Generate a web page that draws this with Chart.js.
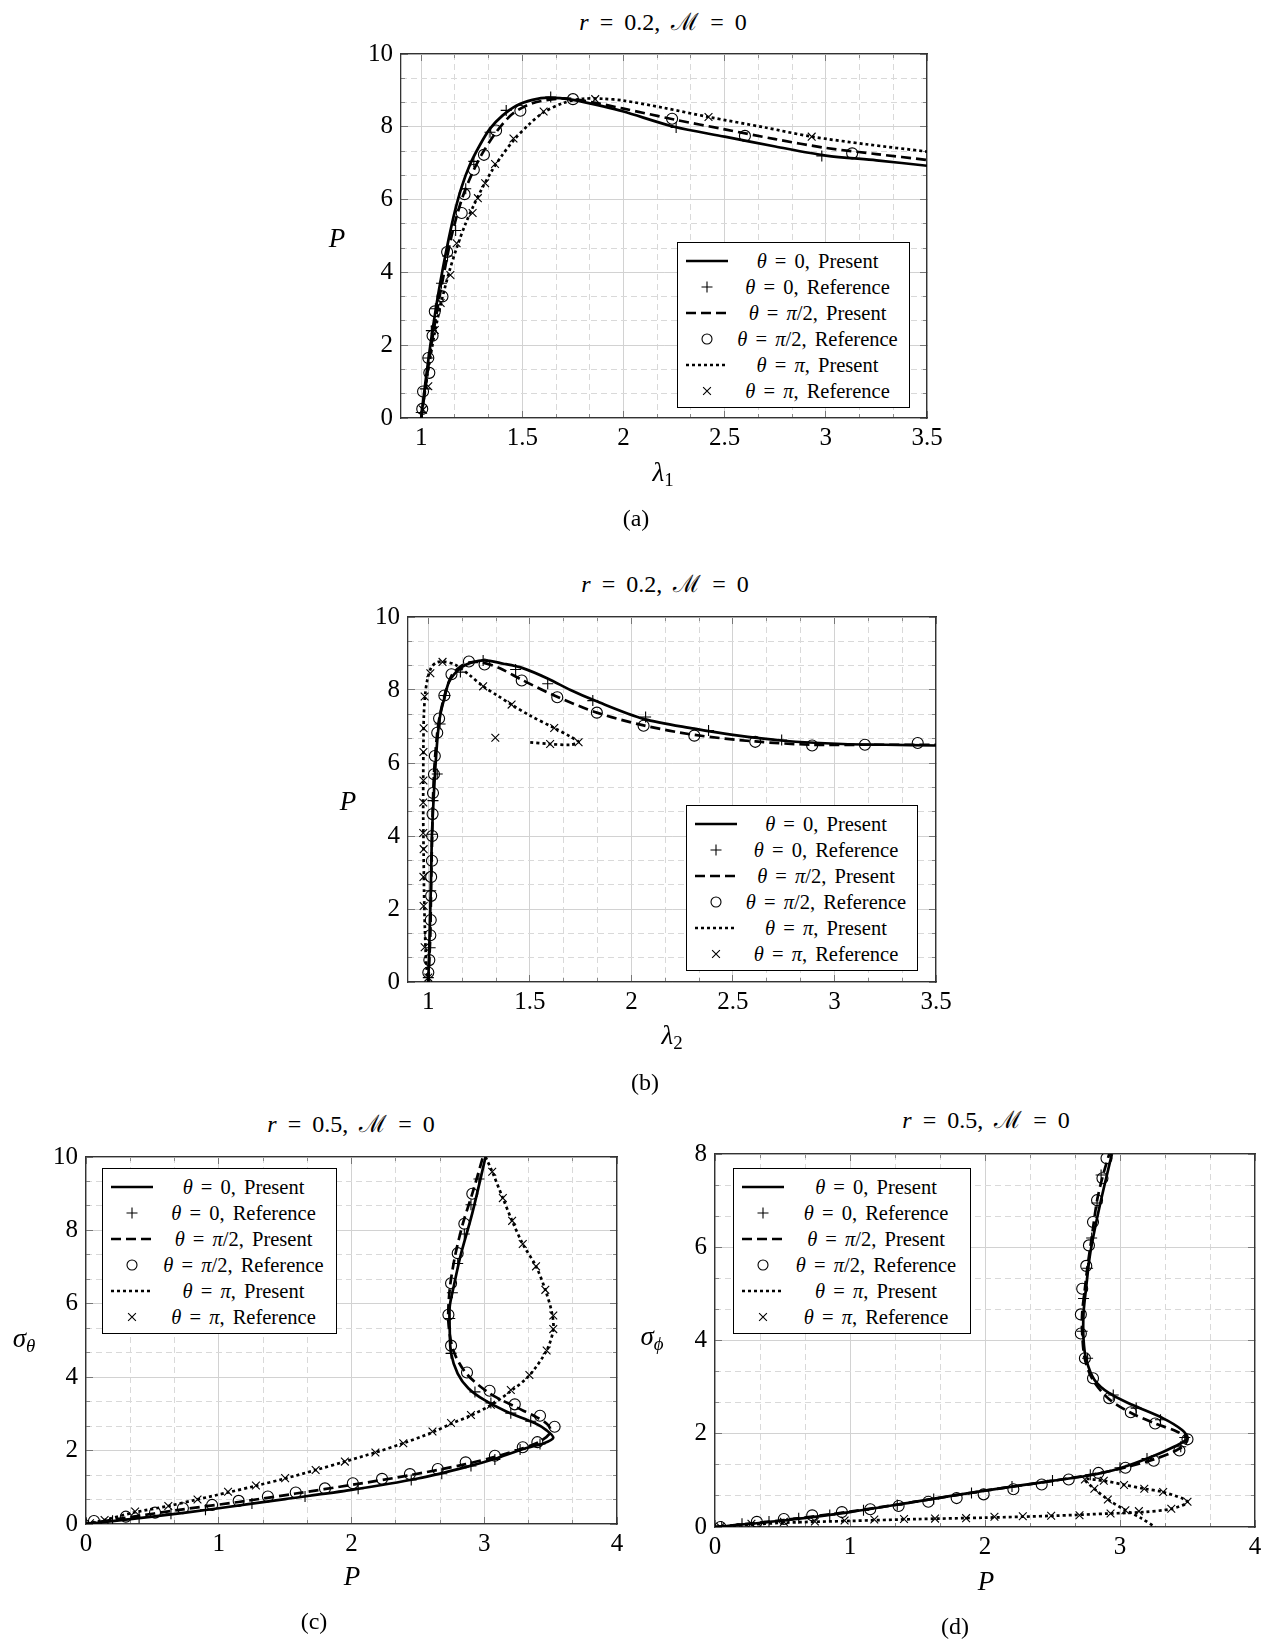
<!DOCTYPE html>
<html>
<head>
<meta charset="utf-8">
<script src="https://cdn.jsdelivr.net/npm/chart.js@4.4.1/dist/chart.umd.min.js"></script>
<style>
body{margin:0;background:#fff;width:1271px;height:1641px;position:relative;overflow:hidden;font-family:'Liberation Serif',serif;color:#000}
.t{position:absolute;transform:translate(-50%,-50%);white-space:nowrap;font-size:24px}
.ttl{word-spacing:5px}
.ax{font-size:27px}
.lg{position:absolute;border:1px solid #000;background:#fff;box-sizing:border-box;padding:5px 0}
.lg .row{display:flex;align-items:center;height:26px}
.lg .s{width:58px;display:flex;justify-content:center;align-items:center}
.lg .tx{flex:1;text-align:center;font-size:20.5px;word-spacing:3px;padding-right:10px;white-space:nowrap}
sub{font-size:70%;vertical-align:-0.3em}
</style>
</head>
<body>
<script>
// tick values
let ticksLambda = [1, 1.5, 2, 2.5, 3, 3.5];
let ticksP10 = [0, 2, 4, 6, 8, 10];
let ticksP4 = [0, 1, 2, 3, 4];
let ticksSig8 = [0, 2, 4, 6, 8];
let legendLabels = ["θ = 0, Present", "θ = 0, Reference", "θ = π/2, Present", "θ = π/2, Reference", "θ = π, Present", "θ = π, Reference"];

// (a) lambda1 vs P
let a_solid = [[1.0,0],[1.02,0.95],[1.045,2.0],[1.075,3.1],[1.105,4.05],[1.135,4.9],[1.165,5.65],[1.2,6.35],[1.24,6.95],[1.29,7.5],[1.34,7.95],[1.4,8.3],[1.47,8.58],[1.55,8.74],[1.63,8.8],[1.75,8.74],[1.9,8.56],[2.0,8.42],[2.25,8.0],[2.5,7.73],[2.75,7.46],[3.0,7.21],[3.25,7.08],[3.5,6.93]];
let a_plus = [[1.0,0.15],[1.02,0.8],[1.035,1.65],[1.05,2.4],[1.07,3.0],[1.1,3.7],[1.13,4.45],[1.17,5.15],[1.22,6.3],[1.26,7.05],[1.34,7.85],[1.42,8.45],[1.64,8.82],[2.26,7.98],[2.98,7.2]];
let a_dash = [[1.0,0],[1.025,1.0],[1.05,2.0],[1.08,3.0],[1.11,3.9],[1.15,5.0],[1.2,6.0],[1.25,6.7],[1.3,7.25],[1.37,7.85],[1.45,8.35],[1.55,8.65],[1.7,8.78],[1.8,8.72],[2.0,8.5],[2.25,8.2],[2.5,7.93],[2.75,7.66],[3.0,7.42],[3.25,7.25],[3.5,7.09]];
let a_circ = [[1.005,0.25],[1.009,0.73],[1.04,1.24],[1.035,1.65],[1.056,2.26],[1.067,2.93],[1.105,3.34],[1.128,4.56],[1.2,5.63],[1.214,6.15],[1.26,6.82],[1.31,7.23],[1.37,7.9],[1.49,8.44],[1.75,8.76],[2.24,8.22],[2.6,7.75],[3.13,7.27]];
let a_dot = [[1.0,0],[1.02,0.8],[1.04,1.5],[1.065,2.3],[1.1,3.2],[1.14,4.05],[1.18,4.75],[1.22,5.35],[1.26,5.85],[1.3,6.3],[1.35,6.8],[1.4,7.22],[1.46,7.65],[1.53,8.05],[1.6,8.38],[1.7,8.65],[1.8,8.77],[1.9,8.77],[2.0,8.72],[2.2,8.52],[2.42,8.27],[2.7,7.98],[2.93,7.73],[3.2,7.52],[3.5,7.32]];
let a_cross = [[1.009,0.23],[1.035,0.87],[1.067,2.42],[1.096,3.16],[1.144,3.93],[1.175,4.8],[1.254,5.63],[1.28,6.04],[1.316,6.45],[1.365,6.98],[1.456,7.68],[1.605,8.42],[1.86,8.76],[2.42,8.27],[2.93,7.73]];

// (b) lambda2 vs P
let b_solid = [[1.0,0],[1.005,1.0],[1.01,2.0],[1.014,3.0],[1.018,4.05],[1.026,5.0],[1.035,5.9],[1.047,6.8],[1.06,7.35],[1.08,7.8],[1.1,8.2],[1.13,8.45],[1.18,8.68],[1.27,8.81],[1.37,8.72],[1.465,8.6],[1.59,8.31],[1.7,8.0],[1.82,7.71],[2.06,7.21],[2.31,6.94],[2.5,6.77],[2.75,6.61],[3.04,6.52],[3.25,6.5],[3.5,6.48]];
let b_plus = [[1.0,0.12],[1.009,0.94],[1.012,2.5],[1.019,4.05],[1.023,4.97],[1.044,5.7],[1.058,7.07],[1.082,7.85],[1.158,8.49],[1.27,8.81],[1.43,8.56],[1.588,8.17],[1.81,7.71],[2.07,7.26],[2.38,6.89],[2.74,6.63]];
let b_dash = [[1.0,0],[1.005,0.6],[1.01,1.3],[1.013,2.3],[1.015,3.0],[1.019,4.0],[1.023,5.0],[1.03,5.9],[1.044,6.83],[1.055,7.25],[1.08,7.85],[1.115,8.4],[1.16,8.65],[1.2,8.75],[1.26,8.76],[1.35,8.6],[1.46,8.28],[1.64,7.8],[1.83,7.38],[2.06,7.03],[2.31,6.77],[2.61,6.59],[2.89,6.5],[3.15,6.5],[3.5,6.5]];
let b_circ = [[1.0,0.26],[1.005,0.6],[1.01,1.28],[1.012,1.7],[1.014,2.36],[1.014,2.88],[1.018,3.32],[1.019,4.0],[1.021,4.6],[1.023,5.18],[1.028,5.69],[1.032,6.19],[1.044,6.83],[1.053,7.22],[1.079,7.85],[1.114,8.43],[1.2,8.78],[1.277,8.7],[1.46,8.26],[1.635,7.8],[1.83,7.38],[2.06,7.02],[2.31,6.75],[2.61,6.58],[2.89,6.48],[3.15,6.5],[3.41,6.55]];
let b_dot = [[1.0,0],[0.99,0.5],[0.983,1.5],[0.979,2.5],[0.977,3.5],[0.975,4.5],[0.975,5.5],[0.976,6.5],[0.978,7.3],[0.985,7.9],[0.996,8.3],[1.015,8.62],[1.04,8.75],[1.07,8.78],[1.13,8.7],[1.2,8.42],[1.27,8.1],[1.34,7.85],[1.41,7.6],[1.5,7.3],[1.62,6.96],[1.7,6.72],[1.74,6.57],[1.7,6.5],[1.6,6.52],[1.49,6.57]];
let b_cross = [[1.0,0.12],[0.982,0.95],[0.977,2.08],[0.976,2.88],[0.977,3.64],[0.975,4.08],[0.975,4.92],[0.976,5.52],[0.976,6.3],[0.977,6.95],[0.982,7.82],[1.01,8.46],[1.07,8.77],[1.27,8.1],[1.41,7.6],[1.62,6.96],[1.74,6.57],[1.6,6.52],[1.33,6.69]];

// (c) P vs sigma_theta
let c_solid = [[0,0],[0.5,0.2],[1.0,0.43],[1.5,0.68],[2.0,0.93],[2.5,1.24],[2.86,1.55],[3.1,1.8],[3.3,2.05],[3.45,2.2],[3.52,2.35],[3.47,2.55],[3.38,2.75],[3.17,3.06],[3.0,3.38],[2.88,3.7],[2.8,4.1],[2.75,4.65],[2.74,5.29],[2.74,5.93],[2.77,6.47],[2.82,7.29],[2.91,8.47],[3.01,10]];
let c_plus = [[0.0,0.02],[0.2,0.09],[0.4,0.17],[0.64,0.28],[0.9,0.39],[1.25,0.56],[1.65,0.75],[2.05,0.96],[2.45,1.2],[2.68,1.37],[2.9,1.58],[3.08,1.76],[3.27,2.03],[3.42,2.18],[3.35,2.8],[3.2,3.02],[3.05,3.3],[2.93,3.6],[2.75,4.65],[2.74,5.6],[2.76,6.3],[2.8,7.1],[2.85,7.9],[2.9,8.7],[2.96,9.4]];
let c_dash = [[0,0],[0.3,0.17],[0.73,0.4],[1.15,0.6],[1.58,0.83],[2.01,1.07],[2.44,1.33],[2.86,1.63],[3.08,1.83],[3.29,2.06],[3.42,2.25],[3.5,2.5],[3.48,2.7],[3.4,2.9],[3.23,3.2],[3.04,3.56],[2.87,4.08],[2.77,4.7],[2.73,5.5],[2.74,6.4],[2.78,7.3],[2.84,8.2],[2.91,9.0],[2.99,10]];
let c_circ = [[0.06,0.08],[0.3,0.2],[0.52,0.31],[0.73,0.43],[0.95,0.52],[1.15,0.63],[1.37,0.75],[1.58,0.86],[1.8,0.97],[2.01,1.11],[2.23,1.23],[2.44,1.36],[2.65,1.5],[2.86,1.68],[3.08,1.86],[3.29,2.09],[3.4,2.23],[3.53,2.65],[3.42,2.95],[3.23,3.26],[3.04,3.63],[2.87,4.13],[2.75,4.86],[2.73,5.7],[2.75,6.56],[2.8,7.38],[2.85,8.18],[2.91,9.0]];
let c_dot = [[0,0],[0.14,0.11],[0.37,0.32],[0.62,0.49],[0.84,0.67],[1.07,0.86],[1.28,1.04],[1.5,1.24],[1.73,1.47],[1.95,1.7],[2.18,1.95],[2.39,2.2],[2.61,2.5],[2.75,2.73],[2.9,2.96],[3.05,3.24],[3.2,3.62],[3.34,4.05],[3.47,4.73],[3.52,5.3],[3.51,5.75],[3.46,6.38],[3.39,7.02],[3.29,7.63],[3.21,8.26],[3.14,8.88],[3.06,9.6],[3.01,10]];
let c_cross = [[0.03,0.02],[0.14,0.11],[0.37,0.34],[0.62,0.49],[0.84,0.67],[1.07,0.88],[1.28,1.05],[1.5,1.25],[1.73,1.47],[1.95,1.7],[2.18,1.95],[2.39,2.2],[2.61,2.52],[2.75,2.75],[2.9,2.97],[3.05,3.25],[3.2,3.65],[3.34,4.06],[3.47,4.73],[3.52,5.31],[3.52,5.68],[3.46,6.38],[3.39,7.02],[3.29,7.63],[3.21,8.26],[3.14,8.88],[3.06,9.6]];

// (d) P vs sigma_phi
let d_solid = [[0,0],[0.51,0.14],[1.0,0.32],[1.5,0.55],[2.0,0.78],[2.5,0.99],[2.78,1.11],[3.0,1.26],[3.23,1.5],[3.4,1.72],[3.5,1.9],[3.46,2.08],[3.32,2.33],[3.09,2.62],[2.92,2.87],[2.81,3.16],[2.75,3.59],[2.73,4.02],[2.73,4.59],[2.75,5.16],[2.78,5.88],[2.85,6.89],[2.94,8.0]];
let d_plus = [[0.05,0.01],[0.2,0.07],[0.4,0.12],[0.62,0.19],[0.85,0.26],[1.1,0.36],[1.35,0.47],[1.62,0.6],[1.9,0.73],[2.2,0.87],[2.5,1.0],[2.78,1.12],[3.0,1.27],[3.2,1.47],[3.45,1.72],[3.48,1.92],[3.3,2.3],[3.12,2.55],[2.95,2.83],[2.76,3.62],[2.72,4.2],[2.73,4.9],[2.76,5.55],[2.79,6.2],[2.83,6.95],[2.86,7.55]];
let d_dash = [[0,0],[0.51,0.15],[1.0,0.33],[1.5,0.55],[2.0,0.78],[2.5,0.99],[2.84,1.15],[3.04,1.28],[3.25,1.45],[3.44,1.68],[3.5,1.88],[3.42,2.05],[3.26,2.22],[3.08,2.45],[2.92,2.74],[2.8,3.15],[2.74,3.6],[2.72,4.15],[2.72,4.6],[2.74,5.11],[2.76,5.6],[2.79,6.2],[2.83,7.0],[2.87,7.5],[2.92,8.0]];
let d_circ = [[0.04,0.0],[0.31,0.11],[0.51,0.17],[0.72,0.25],[0.94,0.32],[1.15,0.38],[1.36,0.45],[1.58,0.54],[1.79,0.62],[1.99,0.7],[2.21,0.81],[2.42,0.91],[2.62,1.02],[2.84,1.16],[3.04,1.27],[3.25,1.42],[3.44,1.64],[3.5,1.88],[3.26,2.22],[3.08,2.46],[2.92,2.76],[2.8,3.19],[2.74,3.62],[2.71,4.15],[2.71,4.56],[2.72,5.11],[2.75,5.6],[2.77,6.04],[2.8,6.54],[2.83,7.01],[2.87,7.48],[2.9,7.91]];
let d_dot = [[0,0],[0.5,0.09],[1.0,0.13],[1.5,0.17],[2.0,0.2],[2.5,0.24],[2.93,0.29],[3.17,0.32],[3.38,0.39],[3.5,0.54],[3.32,0.75],[3.18,0.82],[3.04,0.9],[2.88,0.99],[2.74,1.02],[2.81,0.82],[2.91,0.59],[3.04,0.36],[3.15,0.2],[3.26,0.0]];
let d_cross = [[0.04,0.0],[0.27,0.07],[0.51,0.11],[0.74,0.12],[0.96,0.14],[1.18,0.16],[1.4,0.17],[1.63,0.18],[1.86,0.19],[2.07,0.22],[2.28,0.23],[2.49,0.24],[2.7,0.25],[2.93,0.29],[3.14,0.34],[3.38,0.39],[3.5,0.54],[3.32,0.75],[3.18,0.82],[3.03,0.9],[2.88,0.99],[2.74,1.02],[2.81,0.82],[2.91,0.59],[3.04,0.36]];

const PAD_L = 70, PAD_T = 16, PAD_R = 30, PAD_B = 44;
const FONT = 'Liberation Serif';
const DASH = [10, 5], DOT = [3, 3], LW = 2.7;

function pts(a) { return a.map(p => ({x: p[0], y: p[1]})); }
function lineDs(a, dash) {
  return {data: pts(a), showLine: true, borderColor: '#000', borderWidth: LW, borderDash: dash,
          pointRadius: 0, tension: 0.3, fill: false, order: 2};
}
function markDs(a, style) {
  return {data: pts(a), showLine: false, pointStyle: style, pointRadius: 5.5,
          pointBorderColor: '#000', pointBackgroundColor: 'rgba(0,0,0,0)', pointBorderWidth: 1.1, order: 1};
}

function minorOf(major) {
  let out = [];
  for (let i = 0; i < major.length - 1; i++) {
    let d = (major[i + 1] - major[i]) / 3;
    out.push(major[i] + d, major[i] + 2 * d);
  }
  return out;
}
function setTicks(vals) { return s => { s.ticks = vals.map(v => ({value: v})); }; }
function zeroPad(s) { s.paddingLeft = s.paddingRight = s.paddingTop = s.paddingBottom = 0; }
function noSize(s) { if (s.isHorizontal()) s.height = 0; else s.width = 0; zeroPad(s); }

function buildScales(xr, yr) {
  let sc = {};
  [['x', xr, 'bottom', 'top'], ['y', yr, 'left', 'right']].forEach(([ax, r, pos, opp]) => {
    let horiz = ax === 'x';
    let minor = minorOf(r.ticks);
    let common = {type: 'linear', axis: ax, min: r.min, max: r.max};
    sc[ax] = {...common, position: pos, weight: 1,
      afterBuildTicks: setTicks(r.ticks),
      afterFit: s => { if (horiz) s.height = PAD_B; else s.width = PAD_L; zeroPad(s); },
      ticks: {font: {family: FONT, size: 25}, color: '#000', padding: horiz ? 12 : 15,
              autoSkip: false, maxRotation: 0, callback: v => String(v)},
      grid: {color: '#d2d2d2', lineWidth: 1, tickLength: -7, tickColor: '#777', tickWidth: 1},
      border: {color: '#333', width: 1.3}};
    sc[ax + 'm'] = {...common, position: pos, weight: 0,
      afterBuildTicks: setTicks(minor), afterFit: noSize,
      ticks: {display: false},
      grid: {color: '#d9d9d9', lineWidth: 1, tickLength: -4, tickColor: '#888', tickWidth: 1},
      border: {display: false, dash: [6, 4]}};
    sc[ax + 't'] = {...common, position: opp, weight: 0,
      afterBuildTicks: setTicks(r.ticks), afterFit: noSize,
      ticks: {display: false},
      grid: {drawOnChartArea: false, tickLength: -7, tickColor: '#777', tickWidth: 1},
      border: {color: '#333', width: 1.3}};
    sc[ax + 'tm'] = {...common, position: opp, weight: 1,
      afterBuildTicks: setTicks(minor), afterFit: noSize,
      ticks: {display: false},
      grid: {drawOnChartArea: false, tickLength: -4, tickColor: '#888', tickWidth: 1},
      border: {display: false}};
  });
  return sc;
}

function makeChart(box, xr, yr, series) {
  let cv = document.createElement('canvas');
  let w = box.R - box.L + PAD_L + PAD_R, h = box.B - box.T + PAD_T + PAD_B;
  cv.width = w; cv.height = h;
  cv.style.cssText = 'position:absolute;left:' + (box.L - PAD_L) + 'px;top:' + (box.T - PAD_T) + 'px;width:' + w + 'px;height:' + h + 'px';
  document.body.appendChild(cv);
  new Chart(cv, {
    type: 'scatter',
    data: {datasets: [
      lineDs(series[0], []), markDs(series[1], 'cross'),
      lineDs(series[2], DASH), markDs(series[3], 'circle'),
      lineDs(series[4], DOT), markDs(series[5], 'crossRot')
    ]},
    options: {
      responsive: false, animation: false, devicePixelRatio: 1,
      layout: {padding: {left: 0, top: PAD_T, right: PAD_R, bottom: 0}},
      plugins: {legend: {display: false}, tooltip: {enabled: false}},
      scales: buildScales(xr, yr)
    }
  });
}

function text(html, x, y, cls) {
  let d = document.createElement('div');
  d.className = 't' + (cls ? ' ' + cls : '');
  d.style.left = x + 'px'; d.style.top = y + 'px';
  d.innerHTML = html;
  document.body.appendChild(d);
}

const SAMPLES = [
  '<svg width="46" height="12"><line x1="2" y1="6" x2="44" y2="6" stroke="#000" stroke-width="2.7"/></svg>',
  '<svg width="46" height="12"><path d="M17.5 6h11M23 0.5v11" stroke="#000" stroke-width="1.1"/></svg>',
  '<svg width="46" height="12"><line x1="2" y1="6" x2="44" y2="6" stroke="#000" stroke-width="2.7" stroke-dasharray="10 5"/></svg>',
  '<svg width="46" height="12"><circle cx="23" cy="6" r="5" fill="none" stroke="#000" stroke-width="1.1"/></svg>',
  '<svg width="46" height="12"><line x1="2" y1="6" x2="44" y2="6" stroke="#000" stroke-width="2.7" stroke-dasharray="3 3"/></svg>',
  '<svg width="46" height="12"><path d="M19.1 2.1l7.8 7.8M26.9 2.1l-7.8 7.8" stroke="#000" stroke-width="1.1"/></svg>'
];
function legend(l, t, w) {
  let d = document.createElement('div');
  d.className = 'lg';
  d.style.cssText = 'left:' + l + 'px;top:' + t + 'px;width:' + w + 'px;height:166px';
  d.innerHTML = legendLabels.map((lab, i) =>
    '<div class="row"><div class="s">' + SAMPLES[i] + '</div><div class="tx">' +
    lab.replace(/([θπ])/g, '<i>$1</i>') + '</div></div>').join('');
  document.body.appendChild(d);
}

let lamRange = {min: 0.9, max: 3.5, ticks: ticksLambda};
let p10Range = {min: 0, max: 10, ticks: ticksP10};

makeChart({L: 401, T: 54, R: 927, B: 418}, lamRange, p10Range, [a_solid, a_plus, a_dash, a_circ, a_dot, a_cross]);
makeChart({L: 408, T: 617, R: 936, B: 982}, lamRange, p10Range, [b_solid, b_plus, b_dash, b_circ, b_dot, b_cross]);
makeChart({L: 86, T: 1157, R: 617, B: 1524}, {min: 0, max: 4, ticks: ticksP4}, p10Range, [c_solid, c_plus, c_dash, c_circ, c_dot, c_cross]);
makeChart({L: 715, T: 1154, R: 1255, B: 1527}, {min: 0, max: 4, ticks: ticksP4}, {min: 0, max: 8, ticks: ticksSig8}, [d_solid, d_plus, d_dash, d_circ, d_dot, d_cross]);

legend(677, 242, 233);
legend(686, 805, 232);
legend(102, 1168, 235);
legend(733, 1168, 238);

let titleR2 = '<i>r</i> = 0.2, ℳ = 0';
let titleR5 = '<i>r</i> = 0.5, ℳ = 0';
text(titleR2, 663, 20, 'ttl');
text(titleR2, 665, 582, 'ttl');
text(titleR5, 351, 1122, 'ttl');
text(titleR5, 986, 1118, 'ttl');

text('<i>λ</i><sub>1</sub>', 663, 474, 'ax');
text('<i>λ</i><sub>2</sub>', 672, 1037, 'ax');
text('<i>P</i>', 352, 1576, 'ax');
text('<i>P</i>', 986, 1581, 'ax');
text('<i>P</i>', 337, 238, 'ax');
text('<i>P</i>', 348, 801, 'ax');
text('<i>σ</i><sub><i>θ</i></sub>', 24, 1340, 'ax');
text('<i>σ</i><sub><i>ϕ</i></sub>', 652, 1338, 'ax');

text('(a)', 636, 518);
text('(b)', 645, 1082);
text('(c)', 314, 1621);
text('(d)', 955, 1626);
</script>
</body>
</html>
